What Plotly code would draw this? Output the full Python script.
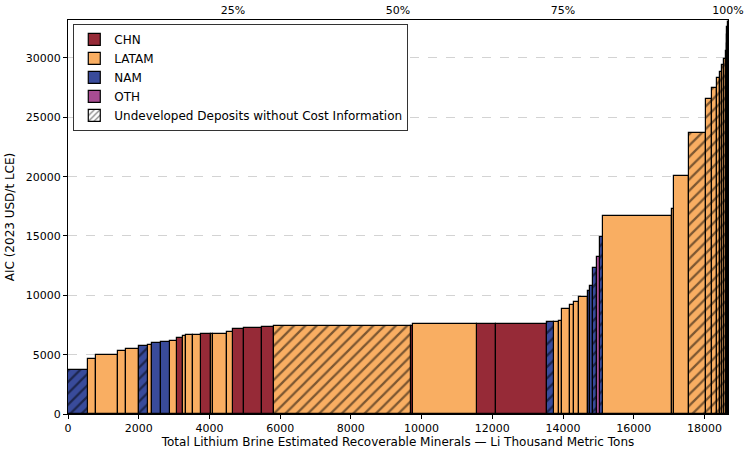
import numpy as np
import plotly.graph_objects as go

# ---- data ----
regions = ["NAM", "LATAM", "LATAM", "LATAM", "LATAM", "NAM", "LATAM", "NAM", "NAM", "LATAM",
           "CHN", "LATAM", "LATAM", "LATAM", "CHN", "LATAM", "LATAM", "LATAM", "CHN", "CHN",
           "CHN", "LATAM", "CHN", "LATAM", "CHN", "CHN", "NAM", "LATAM", "LATAM", "LATAM",
           "LATAM", "LATAM", "LATAM", "NAM", "NAM", "NAM", "OTH", "NAM", "LATAM", "LATAM",
           "LATAM", "LATAM", "LATAM", "LATAM", "LATAM", "LATAM", "LATAM", "LATAM", "LATAM", "LATAM",
           "LATAM", "LATAM", "LATAM"]
hatched = [1, 0, 0, 0, 0, 1, 0, 0, 0, 0,
           0, 0, 0, 0, 0, 0, 0, 0, 0, 0,
           0, 1, 0, 0, 0, 0, 1, 0, 0, 0,
           0, 0, 0, 0, 0, 1, 0, 1, 0, 0,
           0, 1, 1, 1, 1, 1, 1, 1, 1, 1,
           1, 1, 1]
widths = [554, 245, 602, 238, 355, 266, 113, 263, 262, 181,
          187, 76, 206, 226, 266, 65, 404, 169, 311, 500,
          339, 3862, 73, 1808, 529, 1449, 197, 142, 76, 246,
          93, 155, 260, 57, 60, 126, 77, 93, 1940, 57,
          432, 492, 169, 130, 96, 57, 56, 37, 37, 8,
          8, 8, 8]
aic = [3700, 4610, 5000, 5280, 5450, 5700, 5790, 5980, 6100, 6130,
       6380, 6600, 6630, 6660, 6720, 6770, 6780, 6870, 7150, 7250,
       7300, 7390, 7440, 7560, 7570, 7610, 7730, 7740, 7800, 8880,
       9170, 9450, 9830, 10390, 10780, 12270, 13200, 14880, 16670, 17300,
       20030, 23640, 26580, 27500, 28300, 28800, 29400, 29950, 30600, 31300,
       32000, 32600, 33100]

region_order = ["CHN", "LATAM", "NAM", "OTH"]
colors = {"CHN": "#962a37", "LATAM": "#f9ae62", "NAM": "#394b9b", "OTH": "#a84c92"}
hatch_label = "Undeveloped Deposits without Cost Information"
pct_ticks = [25, 50, 75, 100]
x_ticks = list(range(0, 18001, 2000))
y_ticks = list(range(0, 30001, 5000))

widths_a = np.array(widths, dtype=float)
aic_a = np.array(aic, dtype=float)
hatched_a = np.array(hatched, dtype=bool)
regions_a = np.array(regions)
lefts = np.concatenate([[0], np.cumsum(widths_a)[:-1]])
total = widths_a.sum()

FONT = "DejaVu Sans"
fig = go.Figure()

for reg in region_order:
    for h in (False, True):
        m = (regions_a == reg) & (hatched_a == h)
        if not m.any():
            continue
        marker = dict(color=colors[reg], line=dict(color="black", width=1.2))
        if h:
            marker["pattern"] = dict(shape="/", fgcolor="black", bgcolor=colors[reg],
                                     size=8, solidity=0.28, fillmode="overlay")
        fig.add_trace(go.Bar(
            x=lefts[m], y=aic_a[m], width=widths_a[m], offset=0,
            marker=marker, name=reg, legendgroup=reg,
            showlegend=not h, hoverinfo="x+y"))

# legend entry for hatching
fig.add_trace(go.Bar(
    x=[None], y=[None], name=hatch_label,
    marker=dict(color="white", line=dict(color="black", width=1.2),
                pattern=dict(shape="/", fgcolor="black", bgcolor="white",
                             size=5, solidity=0.3)),
    showlegend=True))

# helper trace for the top percentage axis
fig.add_trace(go.Scatter(x=[0, 100], y=[0, 0], xaxis="x2", mode="markers",
                         marker=dict(opacity=0), showlegend=False, hoverinfo="skip"))

fig.update_layout(
    width=748, height=449,
    margin=dict(l=68, r=20, t=20, b=35, autoexpand=False),
    paper_bgcolor="white", plot_bgcolor="white",
    barmode="overlay", bargap=0,
    font=dict(family=FONT, size=11, color="black"),
    legend=dict(x=0.008, y=0.99, xanchor="left", yanchor="top",
                bgcolor="white", bordercolor="#333333", borderwidth=1,
                font=dict(family=FONT, size=12), tracegroupgap=0,
                itemwidth=30),
    xaxis=dict(range=[0, total], tickvals=x_ticks, tickformat="d", ticks="outside", ticklen=4,
               tickcolor="black", showline=True, linecolor="black", linewidth=1,
               mirror=True, showgrid=False, zeroline=False, automargin=False,
               tickfont=dict(size=11),
               title=dict(text="Total Lithium Brine Estimated Recoverable Minerals — Li Thousand Metric Tons",
                          font=dict(size=12), standoff=4)),
    xaxis2=dict(overlaying="x", side="top", range=[0, 100], tickvals=pct_ticks,
                ticktext=[f"{p}%" for p in pct_ticks], ticks="", showline=False,
                showgrid=False, zeroline=False, automargin=False, tickfont=dict(size=11),
                ticklabelstandoff=3),
    yaxis=dict(range=[0, 33200], tickvals=y_ticks, tickformat="d", ticks="outside",
               ticklen=4, tickcolor="black", showline=True, linecolor="black",
               linewidth=1, mirror=True, showgrid=True, gridcolor="#d3d3d3",
               griddash="dash", gridwidth=0.8, zeroline=False, automargin=False,
               tickfont=dict(size=11),
               title=dict(text="AIC (2023 USD/t LCE)", font=dict(size=12), standoff=8)),
)

fig.write_html("out.html")
